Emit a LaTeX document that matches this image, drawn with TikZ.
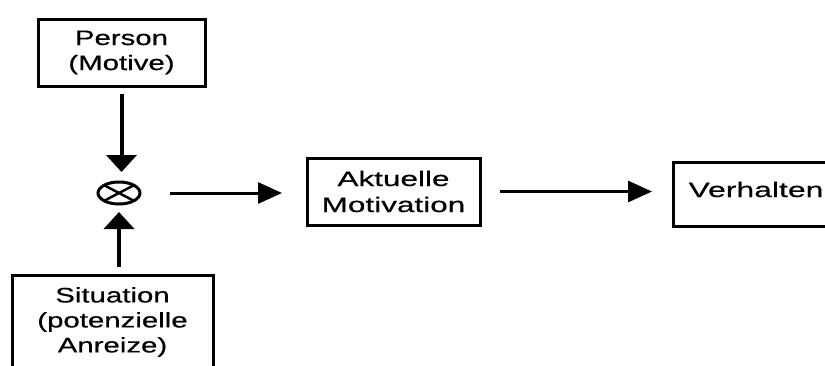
\documentclass[tikz,border=0pt]{standalone}
\usepackage{fontspec}
\setmainfont{Liberation Sans}
% wide sans faces for the box labels
\newfontfamily\lblA{Liberation Sans}[FakeStretch=1.40,FakeBold=0.5]
\newfontfamily\lblB{Liberation Sans}[FakeStretch=1.50,FakeBold=0.5]
\newfontfamily\lblC{Liberation Sans}[FakeStretch=1.52,FakeBold=0.5]
\usetikzlibrary{arrows.meta,shapes.geometric,calc}

\tikzset{
  box/.style={draw, line width=3pt, inner sep=0pt, outer sep=0pt, align=center,
              font=\lblA\fontsize{21}{25}\selectfont},
  vlink/.style={line width=4pt, -{Triangle[width=30pt,length=17pt]}},
  hlink/.style={line width=3pt, -{Triangle[width=21pt,length=24pt]}},
  opnode/.style={draw, ellipse, line width=3pt, minimum width=42pt,
                 minimum height=22pt, inner sep=0pt, outer sep=0pt},
}

\begin{document}
\begin{tikzpicture}[x=1pt, y=-1pt]
  \useasboundingbox (0,0) rectangle (825,365);
  \clip (0,0) rectangle (825,365);

  % boxes
  \node[box, minimum width=167pt, minimum height=67pt] (person) at (121.5,52.5)
    {Person\\(Motive)};
  \node[box, minimum width=201pt, minimum height=94pt] (sit) at (112.5,322)
    {Situation\\(potenzielle\\Anreize)};
  \node[box, minimum width=173pt, minimum height=67pt,
        font=\lblB\fontsize{21}{26}\selectfont] (akt) at (393.5,191.5)
    {Aktuelle\\Motivation};
  \node[box, minimum width=166pt, minimum height=64pt, text height=15pt, text depth=9pt,
        font=\lblC\fontsize{21}{25}\selectfont] (verh) at (756,194)
    {Verhalten};

  % multiplication operator
  \node[opnode] (mul) at (119,193) {};
  \draw[line width=2.5pt]
    ($(mul.center)+(14.5,7.6)$) -- ($(mul.center)+(-14.5,-7.6)$)
    ($(mul.center)+(-14.5,7.6)$) -- ($(mul.center)+(14.5,-7.6)$);

  % connectors
  \draw[vlink, shorten <=8pt, shorten >=10pt] (person.south) -- (person.south |- mul.north);
  \draw[vlink, shorten <=8pt, shorten >=8pt] (sit.north -| mul) -- (mul.south);
  \draw[hlink, shorten <=30pt, shorten >=25pt] (mul.east) -- (akt.west |- mul.east);
  \draw[hlink, shorten <=20pt, shorten >=21pt] (akt.east) -- (verh.west |- akt.east);
\end{tikzpicture}
\end{document}
